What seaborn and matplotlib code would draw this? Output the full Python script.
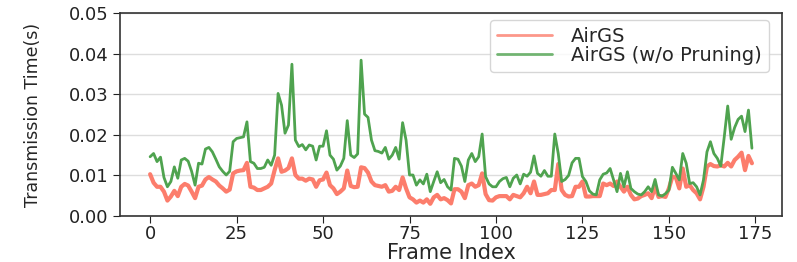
import numpy as np
import pandas as pd
import seaborn as sns
from matplotlib import pyplot as plt
from matplotlib.lines import Line2D

# transmission time per frame (s)
airgs = [
    0.0103, 0.0082, 0.0072, 0.0072, 0.0060, 0.0038, 0.0048, 0.0062, 0.0049, 0.0072,
    0.0079, 0.0075, 0.0060, 0.0044, 0.0072, 0.0075, 0.0090, 0.0096, 0.0090, 0.0085,
    0.0075, 0.0068, 0.0060, 0.0065, 0.0105, 0.0110, 0.0112, 0.0113, 0.0131, 0.0072,
    0.0070, 0.0064, 0.0064, 0.0068, 0.0072, 0.0080, 0.0113, 0.0142, 0.0109, 0.0112,
    0.0118, 0.0142, 0.0101, 0.0092, 0.0092, 0.0087, 0.0092, 0.0090, 0.0072, 0.0088,
    0.0090, 0.0107, 0.0076, 0.0068, 0.0054, 0.0060, 0.0068, 0.0112, 0.0074, 0.0071,
    0.0072, 0.0120, 0.0118, 0.0107, 0.0085, 0.0076, 0.0074, 0.0072, 0.0076, 0.0060,
    0.0062, 0.0072, 0.0064, 0.0095, 0.0068, 0.0046, 0.0041, 0.0033, 0.0038, 0.0033,
    0.0041, 0.0030, 0.0046, 0.0052, 0.0041, 0.0044, 0.0039, 0.0031, 0.0066, 0.0066,
    0.0060, 0.0044, 0.0076, 0.0080, 0.0072, 0.0076, 0.0105, 0.0054, 0.0039, 0.0038,
    0.0046, 0.0049, 0.0049, 0.0049, 0.0041, 0.0052, 0.0049, 0.0046, 0.0056, 0.0072,
    0.0056, 0.0085, 0.0052, 0.0052, 0.0054, 0.0056, 0.0064, 0.0064, 0.0128, 0.0064,
    0.0052, 0.0048, 0.0049, 0.0072, 0.0072, 0.0085, 0.0048, 0.0048, 0.0049, 0.0049,
    0.0049, 0.0080, 0.0076, 0.0080, 0.0074, 0.0085, 0.0072, 0.0060, 0.0072, 0.0052,
    0.0041, 0.0043, 0.0049, 0.0052, 0.0056, 0.0044, 0.0072, 0.0047, 0.0049, 0.0047,
    0.0068, 0.0097, 0.0095, 0.0068, 0.0117, 0.0072, 0.0076, 0.0064, 0.0056, 0.0041,
    0.0072, 0.0122, 0.0128, 0.0123, 0.0122, 0.0125, 0.0122, 0.0131, 0.0122, 0.0138,
    0.0146, 0.0156, 0.0113, 0.0148, 0.0130,
]
airgs_no_prune = [
    0.0146, 0.0154, 0.0134, 0.0145, 0.0095, 0.0072, 0.0085, 0.0121, 0.0093, 0.0138,
    0.0142, 0.0135, 0.0110, 0.0076, 0.0130, 0.0128, 0.0165, 0.0169, 0.0158, 0.0140,
    0.0121, 0.0110, 0.0101, 0.0110, 0.0183, 0.0191, 0.0193, 0.0195, 0.0232, 0.0134,
    0.0130, 0.0117, 0.0117, 0.0120, 0.0138, 0.0125, 0.0150, 0.0302, 0.0273, 0.0204,
    0.0224, 0.0374, 0.0187, 0.0171, 0.0176, 0.0163, 0.0175, 0.0172, 0.0138, 0.0172,
    0.0172, 0.0210, 0.0150, 0.0140, 0.0113, 0.0123, 0.0142, 0.0235, 0.0150, 0.0144,
    0.0153, 0.0384, 0.0251, 0.0243, 0.0187, 0.0161, 0.0159, 0.0155, 0.0169, 0.0140,
    0.0150, 0.0169, 0.0140, 0.0230, 0.0187, 0.0101, 0.0101, 0.0076, 0.0089, 0.0079,
    0.0103, 0.0060, 0.0085, 0.0109, 0.0082, 0.0090, 0.0072, 0.0064, 0.0142, 0.0140,
    0.0123, 0.0085, 0.0138, 0.0154, 0.0134, 0.0146, 0.0202, 0.0097, 0.0079, 0.0072,
    0.0072, 0.0085, 0.0092, 0.0095, 0.0072, 0.0093, 0.0101, 0.0079, 0.0103, 0.0098,
    0.0108, 0.0148, 0.0105, 0.0098, 0.0112, 0.0098, 0.0098, 0.0202, 0.0154, 0.0085,
    0.0090, 0.0100, 0.0131, 0.0142, 0.0142, 0.0097, 0.0085, 0.0062, 0.0054, 0.0052,
    0.0089, 0.0103, 0.0106, 0.0117, 0.0089, 0.0060, 0.0105, 0.0072, 0.0109, 0.0068,
    0.0060, 0.0054, 0.0052, 0.0060, 0.0072, 0.0060, 0.0090, 0.0052, 0.0049, 0.0055,
    0.0064, 0.0120, 0.0105, 0.0089, 0.0154, 0.0130, 0.0080, 0.0082, 0.0072, 0.0052,
    0.0089, 0.0158, 0.0183, 0.0154, 0.0142, 0.0123, 0.0195, 0.0271, 0.0189, 0.0218,
    0.0238, 0.0246, 0.0208, 0.0261, 0.0167,
]
frames = list(range(len(airgs)))

red = "#fc7d6c"
green = "#4fa34f"

sns.set_style("ticks")
plt.rcParams['font.family'] = ['DejaVu Sans']

fig = plt.figure(figsize=(7.97, 2.62), dpi=100)
ax = fig.add_axes([0.1506, 0.1756, 0.8306, 0.7744])

df = pd.DataFrame({"frame": frames, "AirGS": airgs, "AirGS (w/o Pruning)": airgs_no_prune})
sns.lineplot(data=df, x="frame", y="AirGS", ax=ax, color=red, linewidth=3.0)
sns.lineplot(data=df, x="frame", y="AirGS (w/o Pruning)", ax=ax, color=green, linewidth=2.0)

ax.set_ylim(0, 0.05)
ax.set_yticks([0.0, 0.01, 0.02, 0.03, 0.04, 0.05])
ax.yaxis.set_major_formatter(plt.FormatStrFormatter('%.2f'))
ax.set_xticks([0, 25, 50, 75, 100, 125, 150, 175])
ax.margins(x=0.05)
ax.grid(axis='y', color='#dddddd', linewidth=1)
ax.set_axisbelow(True)
for s in ax.spines.values():
    s.set_visible(True)
    s.set_color('#333333')
    s.set_linewidth(1.2)
ax.tick_params(axis='both', labelsize=13, colors='#222222', length=5)
ax.tick_params(axis='x', pad=1.5)

ax.set_xlabel("Frame Index", fontsize=15, labelpad=0)
ax.set_ylabel("Transmission Time(s)", fontsize=12.5)
ax.yaxis.set_label_coords(-0.118, 0.5)

handles = [Line2D([], [], color=red, lw=2, alpha=0.8),
           Line2D([], [], color=green, lw=2, alpha=0.8)]
ax.legend(handles, ["AirGS", "AirGS (w/o Pruning)"], loc='upper right',
          fontsize=14, frameon=True, handlelength=2.8, handletextpad=1.0,
          borderpad=0.35, labelspacing=0.0, borderaxespad=0.35,
          bbox_to_anchor=(0.99, 1.0))

plt.savefig("out.png", dpi=100)
